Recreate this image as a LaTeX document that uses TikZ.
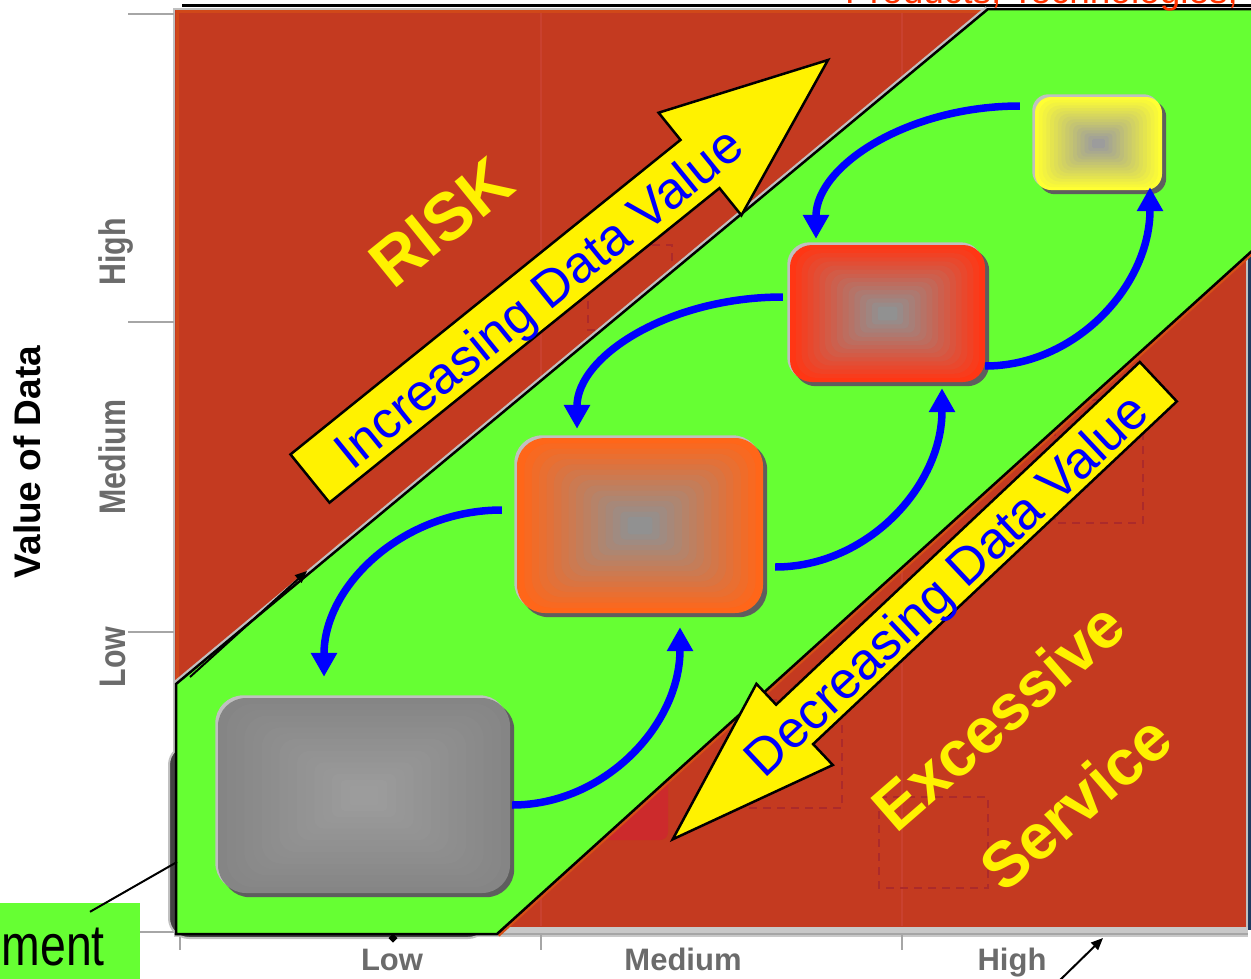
\documentclass[tikz,border=0pt]{standalone}
\usepackage{fontspec}
\setmainfont{Liberation Sans}
\newfontfamily\narrowsf{Liberation Sans}[FakeStretch=0.82]
\newfontfamily\mentsf{Liberation Sans}[FakeStretch=0.8]
\usetikzlibrary{arrows.meta,calc}

\definecolor{redbg}{HTML}{C43A20}
\definecolor{gridred}{HTML}{C9412F}
\definecolor{ghostred}{HTML}{AC2A2A}
\definecolor{ghostbright}{HTML}{CC2A2C}
\definecolor{bandgreen}{HTML}{66FF33}
\definecolor{axisgray}{HTML}{A6A6A6}
\definecolor{bandlight}{HTML}{C8C8C8}
\definecolor{labelgray}{HTML}{6B6B6B}
\definecolor{rimgray}{HTML}{C0C0C0}
\definecolor{shadowgray}{HTML}{5E5E5E}
\definecolor{boxorange}{HTML}{FF6619}
\definecolor{boxred}{HTML}{FF3614}
\definecolor{boxyellow}{HTML}{FFFF33}
\definecolor{boxgray}{HTML}{858585}
\definecolor{coregray}{HTML}{919191}
\definecolor{coregraylight}{HTML}{9C9C9C}
\definecolor{navy}{HTML}{1E3B60}
\definecolor{titlered}{HTML}{FF3300}
\definecolor{zoneyellow}{HTML}{FFF200}

% rounded box with a stepped rectangular gradient, rim and drop shadow
% #1 name, #2 #3 centre, #4 width, #5 height, #6 corner radius, #7 edge colour, #8 core colour
\newcommand\gradbox[8]{%
  \node[inner sep=0pt, minimum width=#4pt, minimum height=#5pt] (#1) at (#2,#3) {};
  \fill[shadowgray, rounded corners=#6pt] ($(#1.south west)+(4,4)$) rectangle ($(#1.north east)+(4,4)$);
  \fill[rimgray, rounded corners=#6pt] ($(#1.south west)+(-2.5,-2.5)$) rectangle ($(#1.north east)+(-2.5,-2.5)$);
  \foreach \gbi in {0,...,15}{%
    \pgfmathsetmacro\gbf{1-0.9*\gbi/15}%
    \pgfmathsetmacro\gbp{100*\gbi/15}%
    \pgfmathsetmacro\gbw{\gbf*#4/2}%
    \pgfmathsetmacro\gbh{\gbf*#5/2}%
    \pgfmathsetmacro\gbr{max(\gbf*#6,1)}%
    \fill[#8!\gbp!#7, rounded corners=\gbr pt] ($(#1.center)+(-\gbw,-\gbh)$) rectangle ($(#1.center)+(\gbw,\gbh)$);
  }%
}

\begin{document}
\begin{tikzpicture}[x=1pt,y=-1pt,
  bigarrow/.style={fill=yellow, draw=black, line width=2.5pt, line join=miter},
  arrowtext/.style={text=blue, inner sep=0pt, font=\fontsize{52}{60}\selectfont},
  zonetext/.style={text=zoneyellow, inner sep=0pt},
  flow/.style={draw=blue, line width=7.5pt, -{Triangle[length=24pt,width=25pt]}},
  callout/.style={draw=black, line width=2pt, -{Triangle[length=12pt,width=10pt]}},
  ticklabel/.style={text=labelgray, inner sep=0pt, font=\narrowsf\bfseries\fontsize{37}{40}\selectfont},
  xlabel/.style={text=labelgray, inner sep=0pt, font=\bfseries\fontsize{31}{36}\selectfont},
  ghost/.style={draw=ghostred, line width=1.8pt, dash pattern=on 8pt off 6pt}
]
\useasboundingbox (0,0) rectangle (1251,978);
\clip (0,0) rectangle (1251,978);

% ---- chart area ----
\fill[redbg] (174,9) rectangle (1247,928);
\draw[gridred, line width=1.5pt] (541,12) -- (541,926) (902,12) -- (902,926);
\draw[redbg!80!orange, line width=3pt] (177.5,11) -- (177.5,926) (176,11.5) -- (1245,11.5);
\draw[rimgray, line width=2.5pt] (174,9) rectangle (1247,928);
\fill[navy] (1248,250) rectangle (1251,930);

% faint shapes behind the band
\draw[ghost] (588,245) rectangle (672,330);
\draw[ghost] (1055,400) rectangle (1143,523);
\draw[ghost] (745,700) rectangle (842,808);
\draw[ghost] (879,797) rectangle (988,888);
\fill[ghostbright, rounded corners=8pt] (590,772) rectangle (668,840);
\draw[redbg!75!orange, line width=1.5pt] (360,565) circle (30);

% axes
\fill[bandlight] (174,927) rectangle (1248,937);
\draw[axisgray, line width=2pt] (174,934) -- (1248,934);
\foreach \ty in {14,322,632,932} \draw[axisgray, line width=2pt] (128,\ty) -- (174,\ty);
\foreach \tx in {180,541,902} \draw[axisgray, line width=2pt] (\tx,934) -- (\tx,950);
\draw[black, line width=2.5pt] (182,5.5) -- (1251,5.5);

% frame showing behind the band
\filldraw[fill=shadowgray!70!black, draw=rimgray, line width=2pt, rounded corners=20pt] (169,745) rectangle (488,938);

% diagonal band
\draw[rimgray, line width=7pt] (176,684) -- (988,9);
\draw[redbg!70!orange, line width=7pt] (497,934) -- (1253,250);
\filldraw[fill=bandgreen, draw=black, line width=2.5pt, line join=miter]
  (176,684) -- (988,9) -- (1253,9) -- (1253,250) -- (497,934) -- (176,934) -- cycle;

% block arrows
\filldraw[bigarrow] (290.5,454.4) -- (680.5,139.9) -- (658.6,112.7) -- (828,60)
  -- (741.4,215.3) -- (719.5,188.1) -- (329.5,502.6) -- cycle;
\filldraw[bigarrow] (672.7,839.3) -- (756.4,683.8) -- (776.1,704.7) -- (1139.8,362.0)
  -- (1176.8,401.4) -- (813.1,744.1) -- (832.8,765.0) -- cycle;
\node[arrowtext, rotate=39] (inctext) at (541,301) {Increasing Data Value};
\node[arrowtext, rotate=43.2] (dectext) at (949,588) {Decreasing Data Value};

% zone names
\node[zonetext, rotate=39, font=\bfseries\fontsize{67}{72}\selectfont] (risk) at (441,222) {RISK};
\node[zonetext, rotate=41, font=\bfseries\fontsize{64}{70}\selectfont] (excess) at (998,716) {Excessive};
\node[zonetext, rotate=41, font=\bfseries\fontsize{64}{70}\selectfont] (service) at (1075,803) {Service};

% stages
\gradbox{bgray}{364}{795.5}{292}{195}{28}{boxgray}{coregraylight}
\gradbox{borange}{640}{525.5}{246}{175}{28}{boxorange}{coregray}
\gradbox{bred}{887.5}{313.5}{195}{137}{22}{boxred}{coregray}
\gradbox{byellow}{1098.5}{143.5}{127}{93}{16}{boxyellow}{coregraylight}

% cycle arrows between stages
\draw[flow] ($(borange.west)+(-15,-15.5)$) .. controls +(-98,0) and +(0,-92) .. ($(bgray.north)+(-40,-21)$);
\draw[flow] ($(bgray.east)+(2,9.5)$) .. controls +(92,0) and +(0,98) .. ($(borange.south)+(40,14)$);
\draw[flow] ($(bred.west)+(-7,-16.5)$) .. controls +(-113,0) and +(0,-73) .. ($(borange.north)+(-63,-9)$);
\draw[flow] ($(borange.east)+(12,41.5)$) .. controls +(92,0) and +(0,98) .. ($(bred.south)+(54.5,6)$);
\draw[flow] ($(byellow.west)+(-15,-37.5)$) .. controls +(-112,0) and +(0,-73) .. ($(bred.north)+(-71.5,-6)$);
\draw[flow] ($(bred.east)+(0,52.5)$) .. controls +(91,0) and +(0,98) .. ($(byellow.south)+(51.5,-3)$);

% axis labels
\node[ticklabel, rotate=90, anchor=base] (yhigh) at (125,252) {High};
\node[ticklabel, rotate=90, anchor=base] (ymed) at (125,457) {Medium};
\node[ticklabel, rotate=90, anchor=base] (ylow) at (125,657) {Low};
\node[inner sep=0pt, rotate=90, anchor=base, font=\bfseries\fontsize{37}{40}\selectfont] (ytitle) at (40,462) {Value of Data};
\node[xlabel, anchor=base] (xlow) at (392,970) {Low};
\node[xlabel, anchor=base] (xmed) at (683,970) {Medium};
\node[xlabel, anchor=base] (xhigh) at (1012,970) {High};

% title running off the top
\node[anchor=base west, inner sep=0pt, text=titlered, font=\fontsize{37}{40}\selectfont] (toptitle) at (845,3) {Products, Technologies,};

% callouts
\node[fill=bandgreen, inner sep=0pt, minimum width=141pt, minimum height=76pt] (mentbox) at (69.5,941) {};
\node[anchor=base east, inner sep=0pt, font=\mentsf\fontsize{58}{64}\selectfont] (menttext) at (105,965) {ment};
\coordinate (mentpt) at (177,862);
\draw[black, line width=2pt] ($(mentbox.north)+(20.5,9)$) -- (mentpt);
\coordinate (diagA) at (190,677);
\coordinate (diagB) at (307,571);
\draw[callout] (diagA) -- (diagB);
\coordinate (hiA) at (1058,982);
\coordinate (hiB) at (1103,938);
\draw[callout] (hiA) -- (hiB);
\fill[black] (393,933.5) -- (397.5,938) -- (393,942.5) -- (388.5,938) -- cycle;
\end{tikzpicture}
\end{document}
